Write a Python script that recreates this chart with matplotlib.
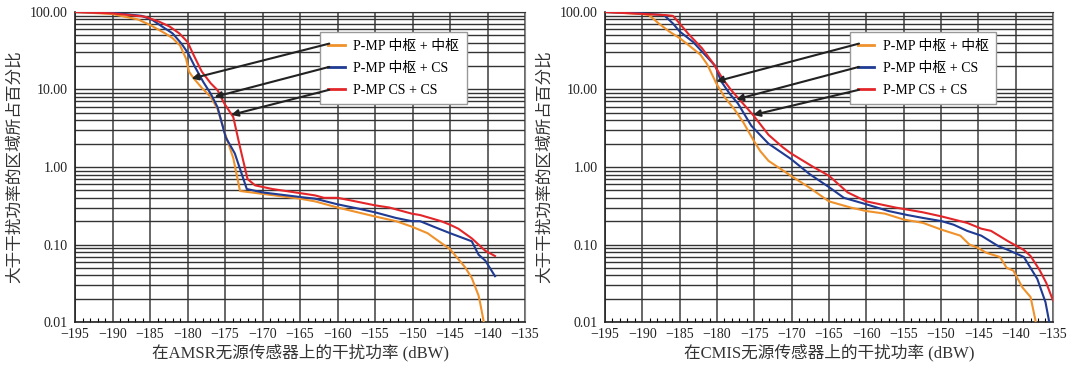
import numpy as np
import matplotlib
matplotlib.use('Agg')
import matplotlib.pyplot as plt
from matplotlib.ticker import MultipleLocator, LogLocator, NullFormatter

plt.rcParams['font.family'] = ['Liberation Serif', 'Noto Sans CJK SC']
plt.rcParams['axes.unicode_minus'] = True

# ---- data (x in dBW, y in %) ----
labels = ['P-MP 中枢 + 中枢', 'P-MP 中枢 + CS', 'P-MP CS + CS']
colors = ['#f0922b', '#1f3b93', '#e3262a']

# AMSR (left panel)
amsr_orange_x = [-195, -190, -186.6, -185, -183, -182, -181, -180.2, -179.8, -179.2, -178.1, -176.9,
                 -176, -175, -173.9, -173, -170, -165, -163, -160, -155, -152.2, -150.1, -148,
                 -146.2, -145, -143, -142.1, -141.2, -141, -140.5]
amsr_orange_y = [100, 94, 80, 68, 53, 46, 37, 25, 17, 14, 10.5, 8, 5.6, 2.7, 1.3, 0.49, 0.45, 0.39,
                 0.36, 0.30, 0.23, 0.2, 0.17, 0.14, 0.105, 0.087, 0.051, 0.037, 0.022, 0.018, 0.01]
amsr_blue_x = [-195, -190, -186.1, -184.7, -183.4, -182, -180.8, -179.9, -179, -177.9, -176.9, -176,
               -174.9, -173.7, -172.1, -170, -165, -163, -160, -157.2, -155, -152.2, -150.1, -149,
               -147.2, -145, -142.1, -141.2, -140.3, -139]
amsr_blue_y = [100, 98, 89, 79, 65, 53, 39, 29, 19.5, 12.5, 8.8, 5.9, 2.4, 1.5, 0.52, 0.47, 0.41,
               0.39, 0.33, 0.29, 0.26, 0.22, 0.2, 0.2, 0.17, 0.14, 0.11, 0.074, 0.062, 0.039]
amsr_red_x = [-195, -190, -185.7, -183.8, -182.4, -181.1, -180, -179.2, -178.1, -176.9, -176, -175.1,
              -173.9, -173, -172, -171, -168.7, -165, -163, -161.8, -160, -158.2, -155, -153.1,
              -150.1, -149, -146.2, -145, -143.9, -142.1, -140.3, -139]
amsr_red_y = [100, 96, 87, 75, 65, 53, 41, 28, 17, 12, 9.8, 6.6, 4.4, 1.8, 0.7, 0.58, 0.52, 0.46,
              0.43, 0.40, 0.40, 0.37, 0.32, 0.30, 0.25, 0.24, 0.20, 0.18, 0.16, 0.12, 0.083, 0.071]

# CMIS (right panel)
cmis_orange_x = [-195, -190, -189.1, -187.8, -186.4, -185, -183.6, -182.2, -181.3, -180.1, -179,
                 -177.7, -176.5, -175.1, -174.2, -173.1, -170.1, -167.6, -165, -162.1, -160, -157.5,
                 -155, -152.4, -149.9, -147.4, -146.2, -145.1, -143.9, -142.1, -141.2, -140.3,
                 -139.1, -138, -137.3]
cmis_orange_y = [100, 94, 91, 71, 56, 46, 36, 28, 21, 12, 8.0, 5.6, 3.8, 2.2, 1.6, 1.2, 0.77, 0.54,
                 0.36, 0.30, 0.27, 0.25, 0.21, 0.19, 0.155, 0.13, 0.10, 0.091, 0.078, 0.069, 0.05,
                 0.046, 0.028, 0.021, 0.01]
cmis_blue_x = [-195, -190, -187.1, -185.9, -185, -183.2, -181.3, -180.2, -179.5, -178.3, -177.2,
               -175.4, -173.1, -170.1, -167.6, -165, -163, -160, -157, -154.5, -152.4, -149.9,
               -148.3, -146.5, -144.6, -142.3, -141, -138.9, -137.1, -136, -135.5]
cmis_blue_y = [100, 96, 91, 71, 56, 41, 26, 20, 13, 8.8, 6.6, 3.4, 2.0, 1.27, 0.81, 0.55, 0.40,
               0.33, 0.27, 0.24, 0.22, 0.20, 0.18, 0.15, 0.13, 0.095, 0.085, 0.069, 0.036, 0.018, 0.01]
cmis_red_x = [-195, -186.8, -185.9, -185, -183.9, -182, -180.4, -179.3, -178.1, -176.7, -175.1,
              -173.1, -171.2, -170.1, -167.1, -165, -162.5, -160, -156.1, -152.4, -149.9, -146.5,
              -144.6, -143.3, -141, -138.9, -138, -136.8, -135.9, -135]
cmis_red_y = [100, 91, 89, 71, 53, 34, 21, 14, 9.8, 6.9, 4.6, 2.6, 1.8, 1.5, 1.0, 0.77, 0.47, 0.36,
              0.30, 0.26, 0.23, 0.19, 0.16, 0.15, 0.11, 0.085, 0.071, 0.047, 0.032, 0.019]

xticks = list(range(-195, -134, 5))
yticks = [0.01, 0.1, 1, 10, 100]
ytick_labels = ['0.01', '0.10', '1.00', '10.00', '100.00']

panels = [
    dict(xs=[amsr_orange_x, amsr_blue_x, amsr_red_x], ys=[amsr_orange_y, amsr_blue_y, amsr_red_y],
         xlabel='在AMSR无源传感器上的干扰功率 (dBW)', pos=[0.0698, 0.139, 0.4186, 0.829],
         leg=(0.545, 0.935),
         arrows=[((0.565, 0.898), (0.259, 0.785)), ((0.565, 0.823), (0.310, 0.726)),
                 ((0.565, 0.749), (0.347, 0.668))]),
    dict(xs=[cmis_orange_x, cmis_blue_x, cmis_red_x], ys=[cmis_orange_y, cmis_blue_y, cmis_red_y],
         xlabel='在CMIS无源传感器上的干扰功率 (dBW)', pos=[0.5628, 0.139, 0.4167, 0.829],
         leg=(0.547, 0.935),
         arrows=[((0.567, 0.898), (0.2485, 0.776)), ((0.567, 0.823), (0.293, 0.718)),
                 ((0.567, 0.749), (0.331, 0.668))]),
]

fig = plt.figure(figsize=(10.75, 3.74), dpi=100)

for p in panels:
    ax = fig.add_axes(p['pos'])
    ax.set_yscale('log')
    ax.set_xlim(-195, -135)
    ax.set_ylim(0.01, 100)

    for x, y, c, lab in zip(p['xs'], p['ys'], colors, labels):
        ax.plot(x, y, color=c, lw=1.5, label=lab, zorder=3)

    ax.set_xticks(xticks)
    ax.xaxis.set_minor_locator(MultipleLocator(1))
    ax.set_yticks(yticks)
    ax.set_yticklabels(ytick_labels)
    ax.yaxis.set_minor_locator(LogLocator(base=10, subs=np.arange(2, 10)))
    ax.yaxis.set_minor_formatter(NullFormatter())

    ax.grid(True, which='major', axis='x', color='#4d4d4d', lw=1.2, zorder=1)
    ax.grid(True, which='both', axis='y', color='#333333', lw=1.0, zorder=1)
    ax.set_axisbelow(True)

    ax.tick_params(axis='x', which='major', length=0, labelsize=10, pad=4, labelcolor='#222222')
    ax.tick_params(axis='x', which='minor', direction='in', length=3, width=0.8, top=False)
    ax.tick_params(axis='y', which='both', length=0, labelsize=10, pad=5, labelcolor='#222222')

    for s in ['left', 'bottom']:
        ax.spines[s].set_color('#222222')
        ax.spines[s].set_linewidth(1.2)
    ax.spines['right'].set_color('#888888')
    ax.spines['top'].set_color('#333333')

    ax.set_xlabel(p['xlabel'], fontsize=12, color='#333333', labelpad=2)
    ax.set_ylabel('大于干扰功率的区域所占百分比', fontsize=12, color='#333333', labelpad=5)

    leg = ax.legend(loc='upper left', bbox_to_anchor=p['leg'], fontsize=10, frameon=True,
                    fancybox=False, framealpha=1, edgecolor='#999999', handlelength=1.2,
                    handletextpad=0.6, labelspacing=0.65, borderpad=0.55, borderaxespad=0)
    leg.get_frame().set_linewidth(1.0)
    for line in leg.get_lines():
        line.set_linewidth(2)

    for tail, head in p['arrows']:
        ax.annotate('', xy=head, xytext=tail, xycoords='axes fraction', textcoords='axes fraction',
                    arrowprops=dict(arrowstyle='-|>', color='#222222', lw=1.5, mutation_scale=10,
                                    shrinkA=0, shrinkB=0), zorder=6, annotation_clip=False)

fig.savefig('out.png', dpi=100)
